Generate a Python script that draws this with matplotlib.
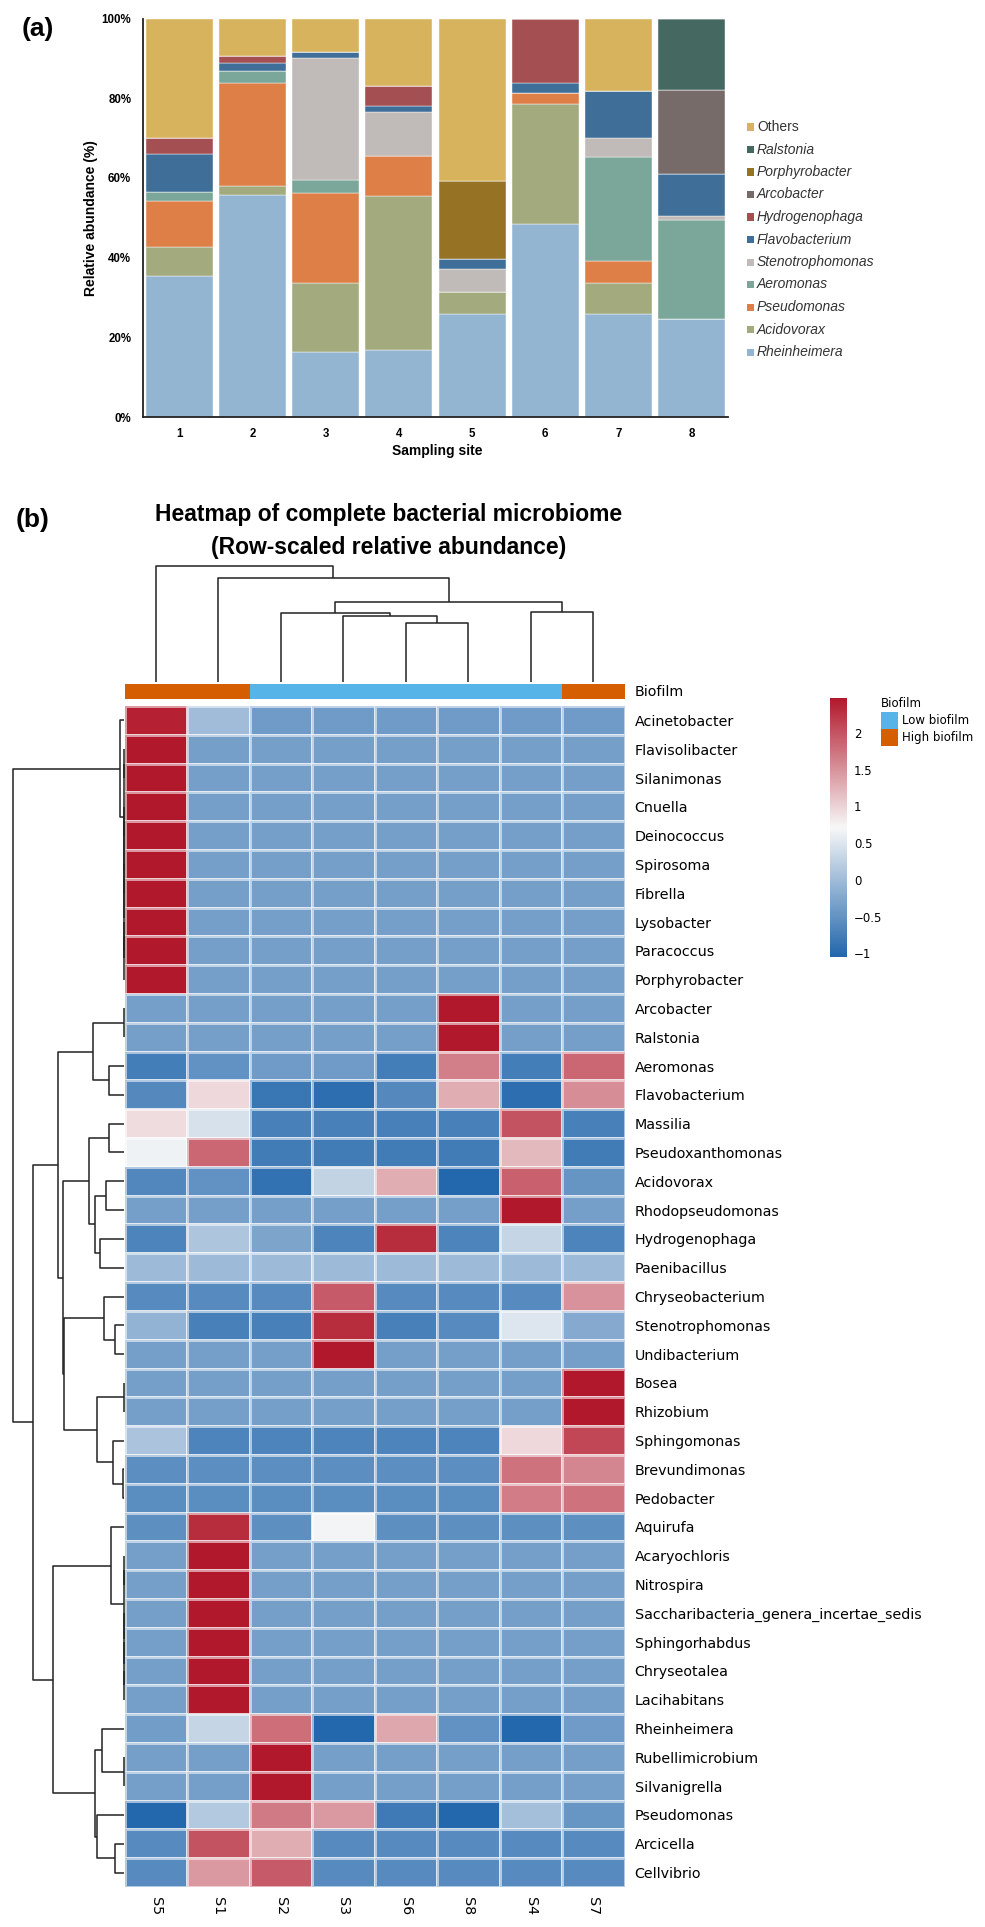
import matplotlib
matplotlib.use('Agg')
import matplotlib.pyplot as plt
import numpy as np
from matplotlib.colors import LinearSegmentedColormap, ListedColormap
from matplotlib.patches import Rectangle

# ---------------- Panel (a) data ----------------
sites = ['1', '2', '3', '4', '5', '6', '7', '8']
rheinheimera     = [35.4, 55.6, 16.2, 16.7, 25.9, 48.4, 25.9, 24.5]
acidovorax       = [7.3, 2.4, 17.4, 38.7, 5.4, 30.2, 7.7, 0.0]
pseudomonas      = [11.4, 25.8, 22.5, 10.0, 0.0, 2.6, 5.6, 0.0]
aeromonas        = [2.3, 3.1, 3.3, 0.0, 0.0, 0.0, 26.0, 24.9]
stenotrophomonas = [0.0, 0.0, 30.8, 11.2, 5.9, 0.0, 4.9, 1.1]
flavobacterium   = [9.5, 1.9, 1.4, 1.4, 2.5, 2.7, 11.7, 10.6]
hydrogenophaga   = [4.1, 1.9, 0.0, 5.1, 0.0, 16.1, 0.0, 0.0]
arcobacter       = [0.0, 0.0, 0.0, 0.0, 0.0, 0.0, 0.0, 20.9]
porphyrobacter   = [0.0, 0.0, 0.0, 0.0, 19.4, 0.0, 0.0, 0.0]
ralstonia        = [0.0, 0.0, 0.0, 0.0, 0.0, 0.0, 0.0, 18.0]
others           = [30.0, 9.3, 8.4, 16.9, 40.9, 0.0, 18.2, 0.0]

stack_names = ['Rheinheimera', 'Acidovorax', 'Pseudomonas', 'Aeromonas', 'Stenotrophomonas',
               'Flavobacterium', 'Hydrogenophaga', 'Arcobacter', 'Porphyrobacter', 'Ralstonia', 'Others']
stack_values = [rheinheimera, acidovorax, pseudomonas, aeromonas, stenotrophomonas,
                flavobacterium, hydrogenophaga, arcobacter, porphyrobacter, ralstonia, others]
stack_colors = ['#94B5D2', '#A3AB7E', '#DE7F48', '#7BA79A', '#C0BAB9',
                '#3F6F98', '#A44F51', '#766B69', '#967225', '#456860', '#D8B35E']
y_ticks = [0, 20, 40, 60, 80, 100]
y_ticklabels = ['0%', '20%', '40%', '60%', '80%', '100%']

# ---------------- Panel (b) data ----------------
samples = ['S5', 'S1', 'S2', 'S3', 'S6', 'S8', 'S4', 'S7']
biofilm = ['High', 'High', 'Low', 'Low', 'Low', 'Low', 'Low', 'High']
genera = ['Acinetobacter', 'Flavisolibacter', 'Silanimonas', 'Cnuella', 'Deinococcus', 'Spirosoma',
          'Fibrella', 'Lysobacter', 'Paracoccus', 'Porphyrobacter', 'Arcobacter', 'Ralstonia',
          'Aeromonas', 'Flavobacterium', 'Massilia', 'Pseudoxanthomonas', 'Acidovorax',
          'Rhodopseudomonas', 'Hydrogenophaga', 'Paenibacillus', 'Chryseobacterium',
          'Stenotrophomonas', 'Undibacterium', 'Bosea', 'Rhizobium', 'Sphingomonas',
          'Brevundimonas', 'Pedobacter', 'Aquirufa', 'Acaryochloris', 'Nitrospira',
          'Saccharibacteria_genera_incertae_sedis', 'Sphingorhabdus', 'Chryseotalea',
          'Lacihabitans', 'Rheinheimera', 'Rubellimicrobium', 'Silvanigrella', 'Pseudomonas',
          'Arcicella', 'Cellvibrio']
# row z-scores, columns in order S5,S1,S2,S3,S6,S8,S4,S7
z_scores = [
    [2.40, 0.00, -0.40, -0.40, -0.40, -0.40, -0.40, -0.40],
    [2.475, -0.354, -0.354, -0.354, -0.354, -0.354, -0.354, -0.354],
    [2.475, -0.354, -0.354, -0.354, -0.354, -0.354, -0.354, -0.354],
    [2.475, -0.354, -0.354, -0.354, -0.354, -0.354, -0.354, -0.354],
    [2.475, -0.354, -0.354, -0.354, -0.354, -0.354, -0.354, -0.354],
    [2.475, -0.354, -0.354, -0.354, -0.354, -0.354, -0.354, -0.354],
    [2.475, -0.354, -0.354, -0.354, -0.354, -0.354, -0.354, -0.354],
    [2.475, -0.354, -0.354, -0.354, -0.354, -0.354, -0.354, -0.354],
    [2.475, -0.354, -0.354, -0.354, -0.354, -0.354, -0.354, -0.354],
    [2.475, -0.354, -0.354, -0.354, -0.354, -0.354, -0.354, -0.354],
    [-0.354, -0.354, -0.354, -0.354, -0.354, 2.475, -0.354, -0.354],
    [-0.354, -0.354, -0.354, -0.354, -0.354, 2.475, -0.354, -0.354],
    [-0.75, -0.50, -0.40, -0.40, -0.75, 1.65, -0.75, 1.85],
    [-0.62, 0.95, -0.85, -0.95, -0.62, 1.30, -0.95, 1.55],
    [0.92, 0.45, -0.72, -0.72, -0.72, -0.72, 2.00, -0.72],
    [0.65, 1.85, -0.78, -0.78, -0.78, -0.78, 1.20, -0.78],
    [-0.65, -0.50, -0.90, 0.28, 1.30, -1.03, 1.90, -0.48],
    [-0.354, -0.354, -0.354, -0.354, -0.354, -0.354, 2.475, -0.354],
    [-0.68, 0.12, -0.28, -0.68, 2.30, -0.68, 0.30, -0.68],
    [-0.02, -0.02, -0.02, -0.02, -0.02, -0.02, -0.02, -0.02],
    [-0.60, -0.60, -0.60, 1.95, -0.60, -0.60, -0.60, 1.50],
    [-0.10, -0.72, -0.72, 2.30, -0.72, -0.60, 0.50, -0.22],
    [-0.354, -0.354, -0.354, 2.475, -0.354, -0.354, -0.354, -0.354],
    [-0.354, -0.354, -0.354, -0.354, -0.354, -0.354, -0.354, 2.475],
    [-0.354, -0.354, -0.354, -0.354, -0.354, -0.354, -0.354, 2.475],
    [0.08, -0.68, -0.68, -0.68, -0.68, -0.68, 0.95, 2.10],
    [-0.56, -0.56, -0.56, -0.56, -0.56, -0.56, 1.75, 1.60],
    [-0.57, -0.57, -0.57, -0.57, -0.57, -0.57, 1.68, 1.75],
    [-0.55, 2.30, -0.55, 0.68, -0.55, -0.55, -0.55, -0.55],
    [-0.354, 2.475, -0.354, -0.354, -0.354, -0.354, -0.354, -0.354],
    [-0.354, 2.475, -0.354, -0.354, -0.354, -0.354, -0.354, -0.354],
    [-0.354, 2.475, -0.354, -0.354, -0.354, -0.354, -0.354, -0.354],
    [-0.354, 2.475, -0.354, -0.354, -0.354, -0.354, -0.354, -0.354],
    [-0.354, 2.475, -0.354, -0.354, -0.354, -0.354, -0.354, -0.354],
    [-0.354, 2.475, -0.354, -0.354, -0.354, -0.354, -0.354, -0.354],
    [-0.38, 0.30, 1.80, -1.03, 1.35, -0.50, -1.03, -0.40],
    [-0.354, -0.354, 2.475, -0.354, -0.354, -0.354, -0.354, -0.354],
    [-0.354, -0.354, 2.475, -0.354, -0.354, -0.354, -0.354, -0.354],
    [-1.03, 0.15, 1.70, 1.45, -0.80, -1.03, 0.03, -0.47],
    [-0.60, 2.00, 1.30, -0.60, -0.60, -0.60, -0.60, -0.60],
    [-0.60, 1.45, 1.95, -0.60, -0.60, -0.60, -0.60, -0.60],
]
# column dendrogram: (child_a, child_b, height); leaves 0..7 in display order
col_merges = [(4, 5, 58.7), (3, 8, 66.0), (2, 9, 69.3), (6, 7, 69.7),
              (10, 11, 80.0), (1, 12, 103.7), (0, 13, 116.0)]
# row dendrogram: leaves 0..40 in display order, new clusters numbered from 41
row_merges = [(1, 2, 0), (3, 4, 0), (5, 6, 0), (7, 8, 0), (44, 9, 0), (43, 45, 0),
              (42, 46, 0), (41, 47, 0), (0, 48, 4.9),
              (10, 11, 0), (12, 13, 15.1), (50, 51, 31.5),
              (14, 15, 15.1), (16, 17, 18.4), (18, 19, 24.5), (54, 55, 29.8), (53, 56, 35.9),
              (21, 22, 9.4), (20, 58, 20.4), (23, 24, 0), (26, 27, 1.5), (25, 61, 11.4),
              (60, 62, 27.8), (59, 63, 60.4),
              (57, 64, 61.2), (52, 65, 66.9),
              (33, 34, 0), (32, 67, 0), (31, 68, 0), (29, 30, 0), (70, 69, 0), (28, 71, 13.5),
              (36, 37, 0), (35, 73, 22.5), (39, 40, 9.0), (38, 75, 27.8), (74, 76, 29.8),
              (72, 77, 71.4), (66, 78, 91.8), (49, 79, 111.5)]
col_root, row_root = 116.0, 111.5
z_min, z_max = -1.05, 2.475
cbar_ticks = [-1, -0.5, 0, 0.5, 1, 1.5, 2]
cbar_labels = ['\u22121', '\u22120.5', '0', '0.5', '1', '1.5', '2']

# ---------------- Figure ----------------
W, H = 985, 1927
fig = plt.figure(figsize=(W / 100, H / 100), dpi=100)
SANS = 'Liberation Sans'
DJ = 'DejaVu Sans'


def box(x0, y0, x1, y1):
    return [x0 / W, 1 - y1 / H, (x1 - x0) / W, (y1 - y0) / H]


def fx(px):
    return px / W


def fy(py):
    return 1 - py / H


# ---- Panel (a) ----
ax = fig.add_axes(box(143, 18.5, 728, 417))
x = np.arange(len(sites))
bottom = np.zeros(len(sites))
for name, vals, col in zip(stack_names, stack_values, stack_colors):
    v = np.array(vals)
    ax.bar(x, v, width=0.917, bottom=bottom, color=col, edgecolor='white', linewidth=0.3)
    bottom += v
ax.set_xlim(-0.5, 7.5)
ax.set_ylim(0, 100)
ax.set_yticks(y_ticks)
ax.set_yticklabels(y_ticklabels, fontsize=8.3, fontweight='bold', fontfamily=SANS)
ax.set_xticks(x)
ax.set_xticklabels(sites, fontsize=8.3, fontweight='bold', fontfamily=SANS)
ax.tick_params(axis='both', length=0)
ax.tick_params(axis='y', pad=8.5)
ax.tick_params(axis='x', pad=8)
for s in ['top', 'right']:
    ax.spines[s].set_visible(False)
ax.spines['left'].set_linewidth(1.3)
ax.spines['bottom'].set_linewidth(1.3)
ax.spines['left'].set_color('#222222')
ax.spines['bottom'].set_color('#222222')
fig.text(fx(91), fy(218), 'Relative abundance (%)', rotation=90, ha='center', va='center',
         fontsize=10, fontweight='bold', fontfamily=SANS)
fig.text(fx(437), fy(451), 'Sampling site', ha='center', va='center',
         fontsize=10, fontweight='bold', fontfamily=SANS)

# legend (reverse of stacking order)
leg_y0, leg_dy = 127, 22.5
for k, (name, col) in enumerate(zip(stack_names[::-1], stack_colors[::-1])):
    yc = leg_y0 + k * leg_dy
    fig.add_artist(Rectangle((fx(747), fy(yc + 3.5)), 7 / W, 7 / H, transform=fig.transFigure,
                             facecolor=col, edgecolor='none'))
    fig.text(fx(757), fy(yc), name, ha='left', va='center', fontsize=10, fontfamily=SANS,
             fontstyle='normal' if name == 'Others' else 'italic', color='#333333')

fig.text(fx(22), fy(29), '(a)', ha='left', va='center', fontsize=19, fontweight='bold', fontfamily=SANS)
fig.text(fx(16), fy(520), '(b)', ha='left', va='center', fontsize=19, fontweight='bold', fontfamily=SANS)

# ---- Panel (b) ----
fig.text(fx(389), fy(515), 'Heatmap of complete bacterial microbiome', ha='center', va='center',
         fontsize=16.5, fontweight='bold', fontfamily=SANS)
fig.text(fx(389), fy(547), '(Row-scaled relative abundance)', ha='center', va='center',
         fontsize=16.5, fontweight='bold', fontfamily=SANS)

cmap = LinearSegmentedColormap.from_list('ph', ['#2166AC', '#F7F7F7', '#B2182B'])
Z = np.array(z_scores)
n_rows, n_cols = Z.shape

hax = fig.add_axes(box(124.5, 706, 624.5, 1887))
mesh = hax.pcolormesh(Z, cmap=cmap, vmin=z_min, vmax=z_max,
                      edgecolors=(1, 1, 1, 0.55), linewidth=0.8)
hax.set_xlim(0, n_cols)
hax.set_ylim(n_rows, 0)
for s in hax.spines.values():
    s.set_visible(False)
hax.yaxis.tick_right()
hax.set_yticks(np.arange(n_rows) + 0.5)
hax.set_yticklabels(genera, fontsize=10.3, fontfamily=DJ)
hax.set_xticks(np.arange(n_cols) + 0.5)
hax.set_xticklabels(samples, fontsize=10.3, fontfamily=DJ, rotation=270)
hax.tick_params(axis='both', length=0)
hax.tick_params(axis='y', pad=7.2)
hax.tick_params(axis='x', pad=7.0)

# annotation bar
aax = fig.add_axes(box(124.5, 684, 624.5, 699))
codes = np.array([[0 if b == 'Low' else 1 for b in biofilm]])
ann_cmap = ListedColormap(['#56B4E9', '#D55E00'])
aax.pcolormesh(codes, cmap=ann_cmap, vmin=0, vmax=1)
aax.set_xlim(0, n_cols)
aax.set_ylim(1, 0)
aax.axis('off')
fig.text(fx(634.5), fy(691.5), 'Biofilm', ha='left', va='center', fontsize=10.3, fontfamily=DJ)


def draw_dendro(axd, n, merges, orient):
    pos = {i: i + 0.5 for i in range(n)}
    hts = {i: 0.0 for i in range(n)}
    for k, (a, b, h) in enumerate(merges):
        cid = n + k
        xs = [pos[a], pos[a], pos[b], pos[b]]
        ys = [hts[a], h, h, hts[b]]
        if orient == 'top':
            axd.plot(xs, ys, color='#222222', lw=1.1, clip_on=False, solid_capstyle='butt')
        else:
            axd.plot(ys, xs, color='#222222', lw=1.1, clip_on=False, solid_capstyle='butt')
        pos[cid] = (pos[a] + pos[b]) / 2
        hts[cid] = h


cdax = fig.add_axes(box(124.5, 566, 624.5, 682))
draw_dendro(cdax, n_cols, col_merges, 'top')
cdax.set_xlim(0, n_cols)
cdax.set_ylim(0, col_root)
cdax.axis('off')

rdax = fig.add_axes(box(13, 706, 124.5, 1887))
draw_dendro(rdax, n_rows, row_merges, 'left')
rdax.set_xlim(row_root, 0)
rdax.set_ylim(n_rows, 0)
rdax.axis('off')

# colorbar
cax = fig.add_axes(box(830, 698, 847, 957))
cb = fig.colorbar(mesh, cax=cax, ticks=cbar_ticks)
cb.set_ticklabels(cbar_labels)
cb.outline.set_visible(False)
cb.ax.tick_params(length=0, pad=5, labelsize=8.5)
for t in cb.ax.get_yticklabels():
    t.set_fontfamily(DJ)

# annotation legend
fig.text(fx(881), fy(703), 'Biofilm', ha='left', va='center', fontsize=8.5, fontfamily=DJ)
for k, (lab, col) in enumerate([('Low biofilm', '#56B4E9'), ('High biofilm', '#D55E00')]):
    y0 = 712 + k * 17
    fig.add_artist(Rectangle((fx(881), fy(y0 + 16.5)), 17 / W, 16.5 / H, transform=fig.transFigure,
                             facecolor=col, edgecolor='none'))
    fig.text(fx(902), fy(y0 + 8.2), lab, ha='left', va='center', fontsize=8.5, fontfamily=DJ)

fig.savefig('out.png', dpi=100)
